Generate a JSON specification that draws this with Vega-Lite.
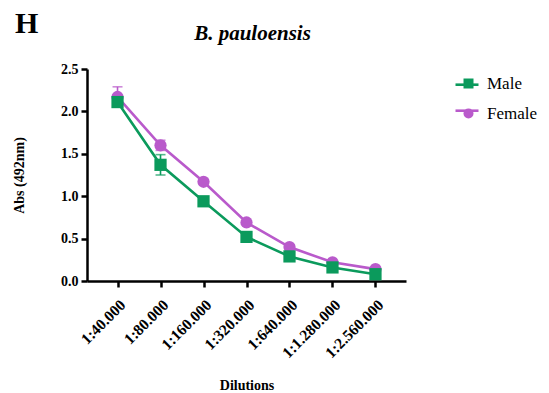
{
  "$schema": "https://vega.github.io/schema/vega-lite/v6.json",
  "width": 319,
  "height": 212,
  "autosize": "none",
  "padding": {"left": 87, "top": 69, "right": 143, "bottom": 112},
  "background": "white",
  "title": {
    "text": "H",
    "anchor": "start",
    "frame": "group",
    "font": "Liberation Serif",
    "fontSize": 30,
    "fontWeight": "bold",
    "color": "black",
    "dx": -72,
    "offset": -17
  },
  "data": {
    "values": [
      {"dil": "1:40.000", "sex": "Female", "val": 2.17, "lo": 2.06, "hi": 2.29},
      {"dil": "1:80.000", "sex": "Female", "val": 1.60, "lo": 1.54, "hi": 1.66},
      {"dil": "1:160.000", "sex": "Female", "val": 1.17, "lo": 1.14, "hi": 1.20},
      {"dil": "1:320.000", "sex": "Female", "val": 0.69, "lo": 0.67, "hi": 0.71},
      {"dil": "1:640.000", "sex": "Female", "val": 0.40, "lo": 0.38, "hi": 0.42},
      {"dil": "1:1.280.000", "sex": "Female", "val": 0.22, "lo": 0.20, "hi": 0.23},
      {"dil": "1:2.560.000", "sex": "Female", "val": 0.14, "lo": 0.13, "hi": 0.15},
      {"dil": "1:40.000", "sex": "Male", "val": 2.11, "lo": 2.06, "hi": 2.17},
      {"dil": "1:80.000", "sex": "Male", "val": 1.37, "lo": 1.25, "hi": 1.49},
      {"dil": "1:160.000", "sex": "Male", "val": 0.94, "lo": 0.92, "hi": 0.96},
      {"dil": "1:320.000", "sex": "Male", "val": 0.52, "lo": 0.50, "hi": 0.54},
      {"dil": "1:640.000", "sex": "Male", "val": 0.29, "lo": 0.27, "hi": 0.31},
      {"dil": "1:1.280.000", "sex": "Male", "val": 0.16, "lo": 0.15, "hi": 0.17},
      {"dil": "1:2.560.000", "sex": "Male", "val": 0.08, "lo": 0.07, "hi": 0.09}
    ]
  },
  "layer": [
    {
      "mark": {"type": "errorbar", "ticks": {"size": 10, "thickness": 1.6}, "rule": {"strokeWidth": 1.6}},
      "encoding": {
        "x": {
          "field": "dil", "type": "nominal",
          "scale": {"type": "point", "padding": 0.71, "domain": ["1:40.000", "1:80.000", "1:160.000", "1:320.000", "1:640.000", "1:1.280.000", "1:2.560.000"]},
          "axis": {"orient": "top", "labels": false, "ticks": false, "domain": false, "title": "B. pauloensis", "titleFontStyle": "italic", "titleFontSize": 21, "titlePadding": 26, "titleX": 165, "minExtent": 0}
        },
        "y": {"field": "lo", "type": "quantitative", "scale": {"domain": [0, 2.5], "nice": false}, "axis": null},
        "y2": {"field": "hi"},
        "color": {"field": "sex", "type": "nominal", "scale": {"domain": ["Male", "Female"], "range": ["#0b9a5c", "#b95acb"]}, "legend": null}
      }
    },
    {
      "mark": {"type": "line", "strokeWidth": 2.6},
      "encoding": {
        "x": {
          "field": "dil", "type": "nominal",
          "scale": {"type": "point", "padding": 0.71, "domain": ["1:40.000", "1:80.000", "1:160.000", "1:320.000", "1:640.000", "1:1.280.000", "1:2.560.000"]},
          "axis": {"orient": "bottom", "title": "Dilutions", "labelAngle": -45, "labelFontSize": 15.5, "labelPadding": 10, "titlePadding": 18}
        },
        "y": {
          "field": "val", "type": "quantitative",
          "scale": {"domain": [0, 2.5], "nice": false},
          "axis": {"title": "Abs (492nm)", "values": [0, 0.5, 1, 1.5, 2, 2.5], "format": ".1f", "titlePadding": 34, "labelPadding": 3}
        },
        "color": {
          "field": "sex", "type": "nominal",
          "scale": {"domain": ["Male", "Female"], "range": ["#0b9a5c", "#b95acb"]},
          "legend": {"orient": "none", "legendX": 367, "legendY": 2.7, "title": null, "symbolType": "stroke", "symbolSize": 529, "symbolStrokeWidth": 2.6, "labelExpr": "''", "labelOffset": 0, "rowPadding": 5, "padding": 0}
        }
      }
    },
    {
      "mark": {"type": "point", "filled": true, "opacity": 1, "size": 150},
      "encoding": {
        "x": {
          "field": "dil", "type": "nominal",
          "scale": {"type": "point", "padding": 0.71, "domain": ["1:40.000", "1:80.000", "1:160.000", "1:320.000", "1:640.000", "1:1.280.000", "1:2.560.000"]},
          "axis": null
        },
        "y": {"field": "val", "type": "quantitative", "scale": {"domain": [0, 2.5], "nice": false}, "axis": null},
        "color": {
          "field": "sex", "type": "nominal",
          "scale": {"domain": ["Male", "Female"], "range": ["#0b9a5c", "#b95acb"]},
          "legend": {"orient": "none", "legendX": 373, "legendY": 6, "title": null, "symbolSize": 100, "symbolOpacity": 1, "labelFontSize": 17, "labelOffset": 10, "rowPadding": 12, "padding": 0}
        },
        "shape": {
          "field": "sex", "type": "nominal",
          "scale": {"domain": ["Male", "Female"], "range": ["square", "circle"]},
          "legend": {"orient": "none", "legendX": 373, "legendY": 6, "title": null, "symbolSize": 100, "labelFontSize": 17, "labelOffset": 10, "rowPadding": 12, "padding": 0}
        }
      }
    }
  ],
  "resolve": {
    "scale": {"color": "independent", "shape": "independent"},
    "legend": {"color": "independent", "shape": "independent"},
    "axis": {"x": "independent", "y": "independent"}
  },
  "config": {
    "view": {"stroke": null},
    "font": "Liberation Serif",
    "axis": {
      "grid": false,
      "domainColor": "black",
      "domainWidth": 2.5,
      "tickColor": "black",
      "tickWidth": 2.5,
      "tickSize": 6,
      "labelColor": "black",
      "labelFont": "Liberation Serif",
      "labelFontWeight": "bold",
      "labelFontSize": 14,
      "titleColor": "black",
      "titleFont": "Liberation Serif",
      "titleFontWeight": "bold",
      "titleFontSize": 14
    },
    "legend": {
      "labelFont": "Liberation Serif",
      "labelColor": "black",
      "labelFontSize": 17
    }
  }
}
